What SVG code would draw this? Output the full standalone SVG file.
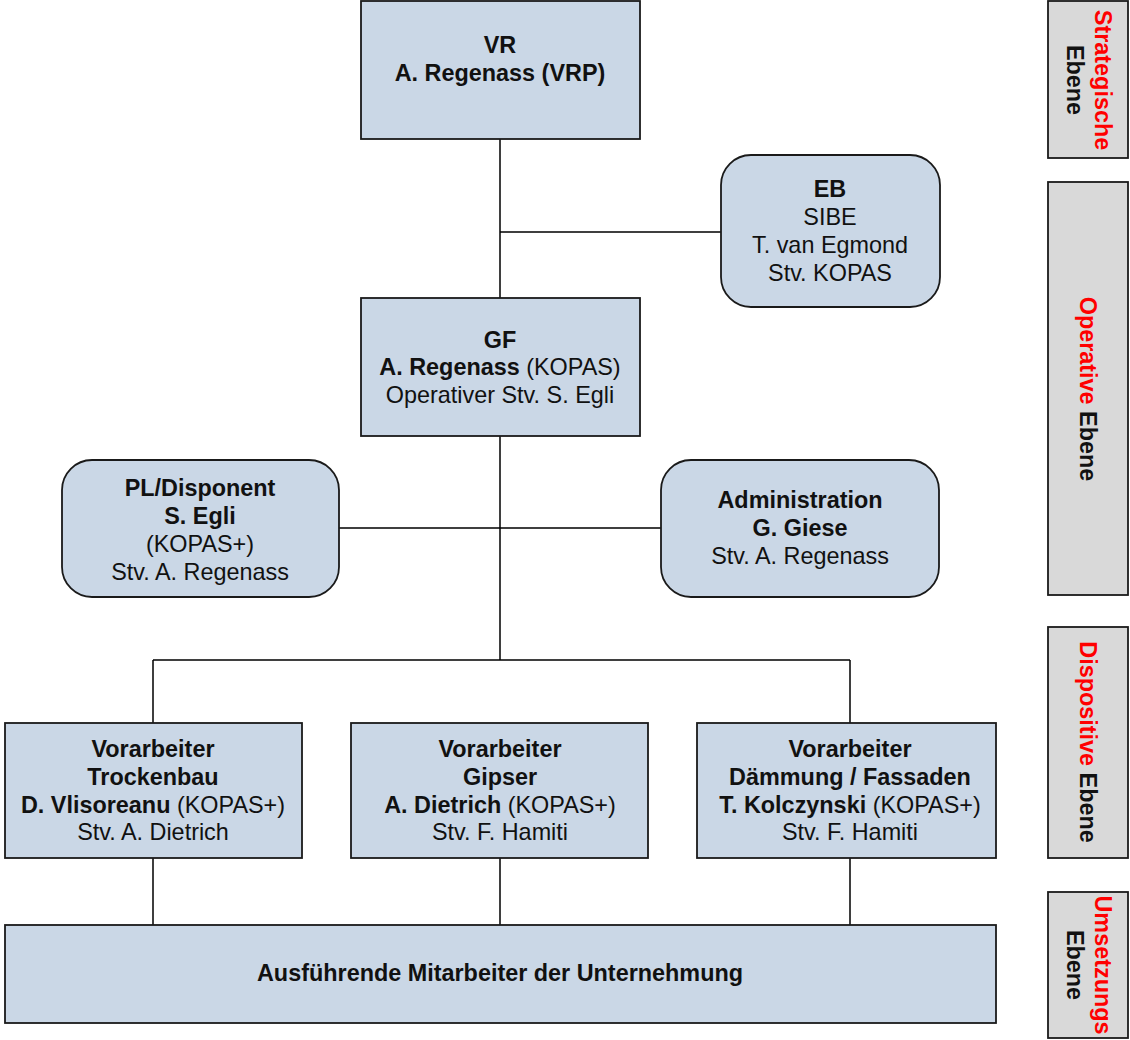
<svg xmlns="http://www.w3.org/2000/svg" width="1130" height="1040" viewBox="0 0 1130 1040">
<style>
.box{fill:#cad7e6;stroke:#1a1a1a;stroke-width:1.8}
.side{fill:#d9d9d9;stroke:#1a1a1a;stroke-width:1.8}
.ln{stroke:#000;stroke-width:1.5;fill:none}
text{font-family:"Liberation Sans",Arial,sans-serif;font-size:23.4px;fill:#111;text-anchor:middle}
.b{font-weight:bold}
.r{fill:#ff0000}
</style>
<rect width="1130" height="1040" fill="#fff"/>
<g id="connectors">
<path class="ln" d="M500 139V298M500 232H721M500 436V660M339 528H661M153 660H850M153 660V723M850 660V723M153 858V925M500 858V925M850 858V925"/>
</g>
<g id="vr">
<rect class="box" x="361" y="1" width="279" height="138"/>
<text x="500" y="53" class="b">VR</text>
<text x="500" y="81" class="b">A. Regenass (VRP)</text>
</g>
<g id="eb">
<rect class="box" x="721" y="155" width="219" height="152" rx="30"/>
<text x="830" y="197" class="b">EB</text>
<text x="830" y="225">SIBE</text>
<text x="830" y="253">T. van Egmond</text>
<text x="830" y="281">Stv. KOPAS</text>
</g>
<g id="gf">
<rect class="box" x="361" y="298" width="279" height="138"/>
<text x="500" y="348" class="b">GF</text>
<text x="500" y="375"><tspan class="b">A. Regenass</tspan> (KOPAS)</text>
<text x="500" y="403">Operativer Stv. S. Egli</text>
</g>
<g id="pl">
<rect class="box" x="62" y="460" width="277" height="137" rx="30"/>
<text x="200" y="496" class="b">PL/Disponent</text>
<text x="200" y="524" class="b">S. Egli</text>
<text x="200" y="552">(KOPAS+)</text>
<text x="200" y="580">Stv. A. Regenass</text>
</g>
<g id="admin">
<rect class="box" x="661" y="460" width="278" height="137" rx="30"/>
<text x="800" y="508" class="b">Administration</text>
<text x="800" y="536" class="b">G. Giese</text>
<text x="800" y="564">Stv. A. Regenass</text>
</g>
<g id="va1">
<rect class="box" x="5" y="723" width="297" height="135"/>
<text x="153" y="757" class="b">Vorarbeiter</text>
<text x="153" y="785" class="b">Trockenbau</text>
<text x="153" y="813"><tspan class="b">D. Vlisoreanu</tspan> (KOPAS+)</text>
<text x="153" y="840">Stv. A. Dietrich</text>
</g>
<g id="va2">
<rect class="box" x="351" y="723" width="297" height="135"/>
<text x="500" y="757" class="b">Vorarbeiter</text>
<text x="500" y="785" class="b">Gipser</text>
<text x="500" y="813"><tspan class="b">A. Dietrich</tspan> (KOPAS+)</text>
<text x="500" y="840">Stv. F. Hamiti</text>
</g>
<g id="va3">
<rect class="box" x="697" y="723" width="299" height="135"/>
<text x="850" y="757" class="b">Vorarbeiter</text>
<text x="850" y="785" class="b">Dämmung / Fassaden</text>
<text x="850" y="813"><tspan class="b">T. Kolczynski</tspan> (KOPAS+)</text>
<text x="850" y="840">Stv. F. Hamiti</text>
</g>
<g id="ma">
<rect class="box" x="5" y="925" width="991" height="98"/>
<text x="500" y="981" class="b">Ausführende Mitarbeiter der Unternehmung</text>
</g>
<g id="lvl-strat">
<rect class="side" x="1048" y="1" width="80" height="157"/>
<g transform="translate(1088 80) rotate(90)">
<text x="0" y="-7" class="b r">Strategische</text>
<text x="0" y="21" class="b">Ebene</text>
</g>
</g>
<g id="lvl-op">
<rect class="side" x="1048" y="182" width="80" height="413"/>
<g transform="translate(1088 389) rotate(90)">
<text x="0" y="8" class="b"><tspan class="r">Operative</tspan> Ebene</text>
</g>
</g>
<g id="lvl-disp">
<rect class="side" x="1048" y="627" width="80" height="231"/>
<g transform="translate(1088 742) rotate(90)">
<text x="0" y="8" class="b"><tspan class="r">Dispositive</tspan> Ebene</text>
</g>
</g>
<g id="lvl-ums">
<rect class="side" x="1048" y="892" width="80" height="146"/>
<g transform="translate(1088 965) rotate(90)">
<text x="0" y="-7" class="b r">Umsetzungs</text>
<text x="0" y="21" class="b">Ebene</text>
</g>
</g>
</svg>
